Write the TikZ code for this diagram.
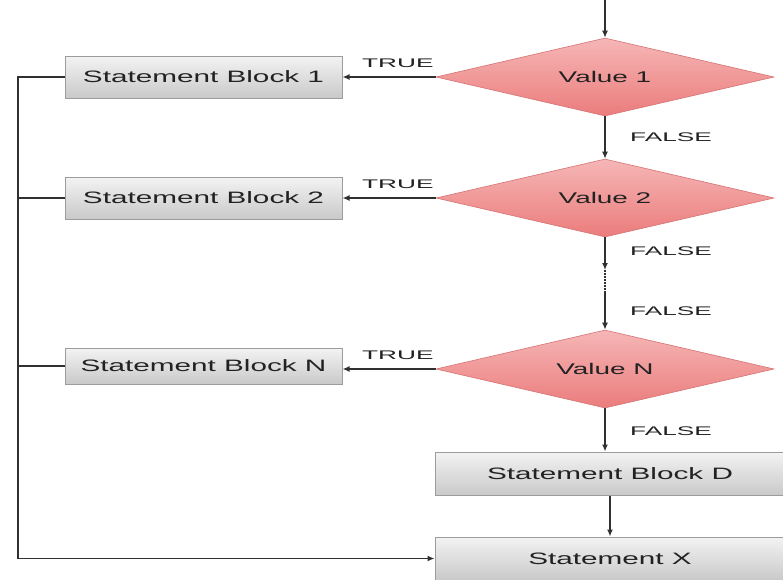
\documentclass[tikz,border=0pt]{standalone}
\usepackage{fontspec}
\usetikzlibrary{shapes.geometric,arrows.meta}
\newfontfamily\boxfont{Liberation Sans}[FakeStretch=1.8]
\newfontfamily\lblfont{Liberation Sans}[FakeStretch=2.1]
\definecolor{inkgray}{HTML}{222222}
\definecolor{linegray}{HTML}{303030}
\definecolor{boxedge}{HTML}{9C9C9C}
\definecolor{boxtop}{HTML}{F3F3F3}
\definecolor{boxbot}{HTML}{C9C9C9}
\definecolor{dmdtop}{HTML}{F6B6B6}
\definecolor{dmdbot}{HTML}{EB7C7C}
\definecolor{dmdedge}{HTML}{D67272}
\tikzset{
  stmt/.style={rectangle, draw=boxedge, line width=1pt, top color=boxtop, bottom color=boxbot,
    inner sep=0pt, text=inkgray, font=\boxfont\fontsize{16.5}{18}\selectfont},
  decision/.style={diamond, shape aspect=5, draw=dmdedge, line width=0.6pt, top color=dmdtop, bottom color=dmdbot,
    inner sep=0pt, minimum width=338pt, minimum height=78pt, text=inkgray,
    font=\boxfont\fontsize{15.5}{17}\selectfont},
  lbl/.style={text=inkgray, font=\lblfont\fontsize{12.5}{14}\selectfont, inner sep=0pt},
  flow/.style={draw=linegray, line width=1.5pt, -{Latex[length=7pt,width=6pt]}},
  bus/.style={draw=linegray, line width=1.5pt},
}
\begin{document}
\begin{tikzpicture}[x=1pt, y=-1pt]
\useasboundingbox[fill=white] (0,0) rectangle (783,579);

% decisions
\node[decision] (v1) at (605,77) {Value 1};
\node[decision] (v2) at (605,198) {Value 2};
\node[decision] (vn) at (605,369) {Value N};

% statement blocks on the left
\node[stmt, minimum width=277pt, minimum height=42pt] (b1) at (203.5,77) {Statement Block 1};
\node[stmt, minimum width=277pt, minimum height=42pt] (b2) at (203.5,198) {Statement Block 2};
\node[stmt, minimum width=277pt, minimum height=36pt] (bn) at (203.5,366) {Statement Block N};

% default block and the joining statement
\node[stmt, minimum width=350pt, minimum height=43pt] (bd) at (610,473.5) {Statement Block D};
\node[stmt, minimum width=350pt, minimum height=43pt] (sx) at (610,558.5) {Statement X};

% entry
\coordinate (entry) at (605,0);
\draw[flow] (entry) -- (v1.north);

% false chain
\coordinate (gapA) at (605,270);
\coordinate (gapB) at (605,291);
\draw[flow] (v1.south) -- (v2.north);
\draw[flow] (v2.south) -- (gapA);
\draw[draw=linegray, line width=1.5pt, dash pattern=on 1.5pt off 1.5pt] (gapA) -- (gapB);
\draw[flow] (gapB) -- (vn.north);
\draw[flow] (vn.south) -- (vn.south |- bd.north);
\draw[flow] (bd.south) -- (sx.north);

\node[lbl, anchor=west] at (630,137) {FALSE};
\node[lbl, anchor=west] at (630,251) {FALSE};
\node[lbl, anchor=west] at (630,311) {FALSE};
\node[lbl, anchor=west] at (630,431) {FALSE};

% true branches
\draw[flow] (v1.west) -- (b1.east);
\draw[flow] (v2.west) -- (b2.east);
\draw[flow] (vn.west) -- (vn.west -| bn.east);
\node[lbl, anchor=west] at (362,63) {TRUE};
\node[lbl, anchor=west] at (362,184) {TRUE};
\node[lbl, anchor=west] at (362,355) {TRUE};

% return bus on the left
\coordinate (busTop) at (18,77);
\coordinate (busBot) at (18,558.5);
\draw[bus] (b1.west) -- (busTop) -- (busBot);
\draw[flow] (busBot) -- (sx.west);
\draw[bus] (b2.west) -- (b2.west -| busTop);
\draw[bus] (bn.west) -- (bn.west -| busTop);
\end{tikzpicture}
\end{document}
